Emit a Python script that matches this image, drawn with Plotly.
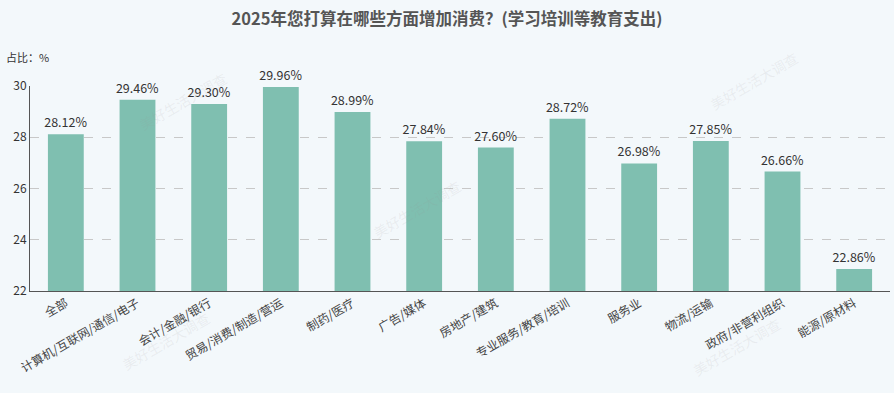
import plotly.graph_objects as go

categories = ["全部", "计算机/互联网/通信/电子", "会计/金融/银行", "贸易/消费/制造/营运",
              "制药/医疗", "广告/媒体", "房地产/建筑", "专业服务/教育/培训",
              "服务业", "物流/运输", "政府/非营利组织", "能源/原材料"]
values = [28.12, 29.46, 29.30, 29.96, 28.99, 27.84, 27.60, 28.72, 26.98, 27.85, 26.66, 22.86]
y_ticks = [22, 24, 26, 28, 30]

font = "Noto Sans CJK SC, Noto Sans, sans-serif"

fig = go.Figure(go.Bar(
    x=categories, y=values,
    marker=dict(color="#7fbfb0", line=dict(width=0)),
    width=0.5,
    text=[f"{v:.2f}%" for v in values],
    textposition="outside",
    constraintext="none",
    textfont=dict(size=12.5, color="#333333", family=font),
    cliponaxis=False,
))

fig.update_layout(
    width=894, height=393,
    paper_bgcolor="#f3f8fb", plot_bgcolor="#f3f8fb",
    margin=dict(l=30, r=4, t=86, b=102),
    font=dict(family=font, color="#333333", size=12),
    showlegend=False,
    title=dict(text="<b>2025年您打算在哪些方面增加消费？(学习培训等教育支出)</b>",
               x=0.5, xanchor="center", y=0.95, yanchor="middle",
               font=dict(size=16.5, color="#555555", family=font)),
)
fig.update_yaxes(range=[22, 30], tickvals=y_ticks, showgrid=True,
                 gridcolor="#c8c8c8", griddash="dash", gridwidth=1,
                 showline=True, linecolor="#555555", linewidth=1,
                 ticks="", tickfont=dict(size=12, color="#333333"),
                 zeroline=False, automargin=False)
fig.update_xaxes(showline=True, linecolor="#555555", linewidth=1,
                 tickangle=-30, ticks="", tickfont=dict(size=12, color="#444444"),
                 showgrid=False, automargin=False)

fig.add_annotation(text="占比：%", xref="paper", yref="paper", x=-0.03, y=1.14,
                   xanchor="left", yanchor="middle", showarrow=False,
                   font=dict(size=11, color="#333333"))

for wx, wy in [(0.12, 1.1), (0.45, 0.4), (0.9, 1.2), (0.1, -0.42), (0.88, -0.45)]:
    fig.add_annotation(text="美好生活大调查", xref="paper", yref="paper", x=wx, y=wy,
                       showarrow=False, textangle=-30,
                       font=dict(size=14, color="rgba(150,150,150,0.12)"))

fig.write_html("out.html", config={"displayModeBar": False},
               post_script="document.body.style.margin='0';document.body.style.background='#f3f8fb';")
